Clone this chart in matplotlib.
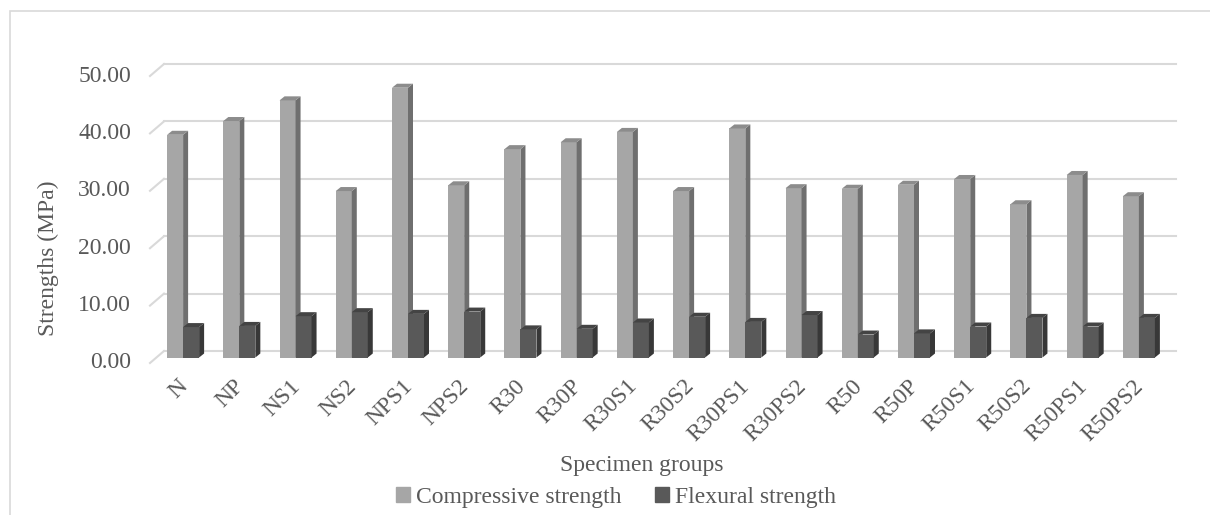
import matplotlib
matplotlib.use("Agg")
import matplotlib.pyplot as plt
from matplotlib.patches import Polygon, Rectangle
from matplotlib.lines import Line2D

categories = ["N", "NP", "NS1", "NS2", "NPS1", "NPS2", "R30", "R30P", "R30S1",
              "R30S2", "R30PS1", "R30PS2", "R50", "R50P", "R50S1", "R50S2",
              "R50PS1", "R50PS2"]
compressive = [38.8, 41.2, 44.8, 29.0, 47.0, 30.0, 36.3, 37.5, 39.3,
               29.0, 39.9, 29.5, 29.4, 30.1, 31.1, 26.7, 31.8, 28.1]
flexural = [5.3, 5.5, 7.2, 7.9, 7.6, 8.0, 4.9, 5.0, 6.1,
            7.1, 6.2, 7.4, 4.0, 4.2, 5.4, 6.9, 5.4, 6.9]
y_ticks = [0, 10, 20, 30, 40, 50]
series_names = ["Compressive strength", "Flexural strength"]
x_title = "Specimen groups"
y_title = "Strengths (MPa)"

W, H, DPI = 1210, 515, 100
fig = plt.figure(figsize=(W / DPI, H / DPI), dpi=DPI)
plt.rcParams['font.family'] = ['Liberation Serif', 'DejaVu Serif']
TXT = "#595959"
GRID = "#d9d9d9"

# chart frame
fig.patches.append(Rectangle((10 / W, -0.1), 1.2, (H - 11) / H + 0.1,
                             transform=fig.transFigure, fill=False,
                             edgecolor=GRID, lw=1.2))

# axes = mid-depth plane of the bars
ax_l, ax_r = 157, 1169
ax_b, ax_t = 357.5, 70.5
ax = fig.add_axes([ax_l / W, (H - ax_b) / H, (ax_r - ax_l) / W, (ax_b - ax_t) / H])
n = len(categories)
ax.set_xlim(-0.5, n - 0.5)
ax.set_ylim(0, 50)
ax.axis("off")

DX = n / (ax_r - ax_l)      # data units per pixel (x)
DY = 50 / (ax_b - ax_t)     # data units per pixel (y)

# back-wall gridlines plus slanted connectors
for v in y_ticks:
    ax.add_line(Line2D([-0.5 + 7 * DX, n - 0.5 + 7 * DX], [v + 6.5 * DY, v + 6.5 * DY],
                       color=GRID, lw=1.5, clip_on=False, zorder=1))
    ax.add_line(Line2D([-0.5 - 7 * DX, -0.5 + 7 * DX], [v - 5.5 * DY, v + 6.5 * DY],
                       color=GRID, lw=1.5, clip_on=False, zorder=1))
    ax.text(-0.5 - 26 * DX, v - 5.5 * DY, f"{v:.2f}", ha="right", va="center",
            fontsize=17, color=TXT, clip_on=False)

bw = 16 * DX
xs = list(range(n))
styles = [
    dict(front="#a6a6a6", side="#6f6f6f", top="#8c8c8c"),
    dict(front="#595959", side="#383838", top="#444444"),
]
offsets = [-18 * DX, -2 * DX]
ddx, ddy = 5 * DX, 4 * DY
for vals, st, off in zip([compressive, flexural], styles, offsets):
    bars = ax.bar([x + off for x in xs], vals, width=bw, align="edge",
                  color=st["front"], lw=0, zorder=3, clip_on=False)
    for b in bars:
        x0, x1, h = b.get_x(), b.get_x() + b.get_width(), b.get_height()
        ax.add_patch(Polygon([(x1, 0), (x1, h), (x1 + ddx, h + ddy), (x1 + ddx, ddy)],
                             closed=True, facecolor=st["side"], lw=0, zorder=3,
                             clip_on=False))
        ax.add_patch(Polygon([(x0, h), (x1, h), (x1 + ddx, h + ddy), (x0 + ddx, h + ddy)],
                             closed=True, facecolor=st["top"], lw=0, zorder=3,
                             clip_on=False))

# category labels
for x, lab in zip(xs, categories):
    ax.text(x - 8 * DX, -18 * DY, lab, rotation=45, rotation_mode="anchor",
            ha="right", va="top", fontsize=17, color=TXT, clip_on=False)

# axis titles
fig.text(48 / W, 1 - 258 / H, y_title, rotation=90, ha="center", va="center",
         fontsize=17, color=TXT)
fig.text(642 / W, 1 - 466 / H, x_title, ha="center", va="center",
         fontsize=17, color=TXT)

# legend
handles = [Rectangle((0, 0), 1, 1, color=st["front"]) for st in styles]
leg = fig.legend(handles, series_names, loc="center", bbox_to_anchor=(616 / W, 1 - 497 / H),
                 ncol=2, frameon=False, fontsize=17, handlelength=0.6, handleheight=0.6,
                 handletextpad=0.25, columnspacing=1.4, borderpad=0, borderaxespad=0)
for t in leg.get_texts():
    t.set_color(TXT)

fig.savefig("out.png", dpi=DPI)
